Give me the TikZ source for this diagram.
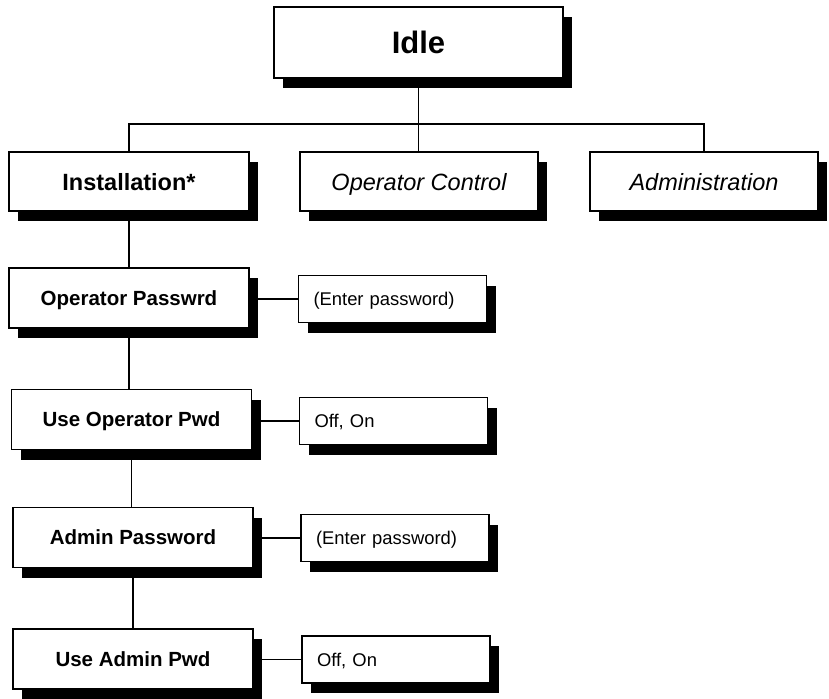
\documentclass[tikz,border=0pt]{standalone}
\usepackage{fontspec}
\setmainfont{Liberation Sans}
\usepackage{tikz}
\usetikzlibrary{shadows}

\tikzset{
  shadowed/.style={fill=white, text depth=0pt, drop shadow={shadow xshift=9pt, shadow yshift=-10pt, fill=black, opacity=1}},
  topbox/.style={draw, line width=1.5pt, shadowed, minimum width=289pt, minimum height=71pt, inner sep=0pt, font=\bfseries\fontsize{31}{36}\selectfont},
  groupbox/.style={draw, line width=1.5pt, shadowed, minimum width=238pt, minimum height=59pt, inner sep=0pt, font=\fontsize{23.5}{28}\selectfont},
  itembox/.style={draw, line width=1.5pt, shadowed, minimum width=240pt, minimum height=60pt, inner sep=0pt, font=\bfseries\fontsize{20.5}{24}\selectfont},
  valuebox/.style={draw, line width=1.5pt, shadowed, text width=158pt, inner xsep=15pt, inner ysep=0pt, minimum height=47pt, align=left, font=\fontsize{18.4}{22}\selectfont},
  link/.style={line width=1.4pt}
}

\begin{document}
\begin{tikzpicture}[x=1pt, y=-1pt]
  \useasboundingbox (0,0) rectangle (829,698);

  % Connectors (drawn first, behind the boxes)
  \coordinate (bar) at (418.5,124);
  \coordinate (installtop) at (129,152);
  \coordinate (admintop) at (704,152);
  \draw[link] (installtop) |- (bar) -| (admintop);
  \draw[link] (418.5,78) -- (418.5,152);

  % Top level
  \node[topbox] (idle) at (418.5,42.5) {Idle};

  % Menu groups
  \node[groupbox, minimum width=240pt, font=\bfseries\fontsize{23.5}{28}\selectfont] (install) at (129,181.5) {Installation*};
  \node[groupbox] (opctrl) at (419,181.5) {\itshape Operator Control};
  \node[groupbox, minimum width=228pt] (admin) at (704,181.5) {\itshape Administration};

  % Installation items
  \node[itembox] (oppass) at (129,298) {Operator Passwrd};
  \node[itembox] (useop) at (131.5,419.5) {Use Operator Pwd};
  \node[itembox] (adpass) at (133,537.5) {Admin Password};
  \node[itembox] (usead) at (133,659) {Use Admin Pwd};

  % Values
  \node[valuebox] (oppassval) at (392.5,299) {(Enter password)};
  \node[valuebox] (useopval) at (393.5,421) {Off, On};
  \node[valuebox] (adpassval) at (395,538) {(Enter password)};
  \node[valuebox] (useadval) at (396,659.5) {Off, On};

  % Vertical chain
  \draw[link] (install.south) -- (install.south |- oppass.north);
  \draw[link] (oppass.south) -- (oppass.south |- useop.north);
  \draw[link] (useop.south) -- (useop.south |- adpass.north);
  \draw[link] (adpass.south) -- (adpass.south |- usead.north);

  % Item to value
  \draw[link] (oppassval.west -| oppass.east) -- (oppassval.west);
  \draw[link] (useopval.west -| useop.east) -- (useopval.west);
  \draw[link] (adpassval.west -| adpass.east) -- (adpassval.west);
  \draw[link] (useadval.west -| usead.east) -- (useadval.west);

\end{tikzpicture}
\end{document}
